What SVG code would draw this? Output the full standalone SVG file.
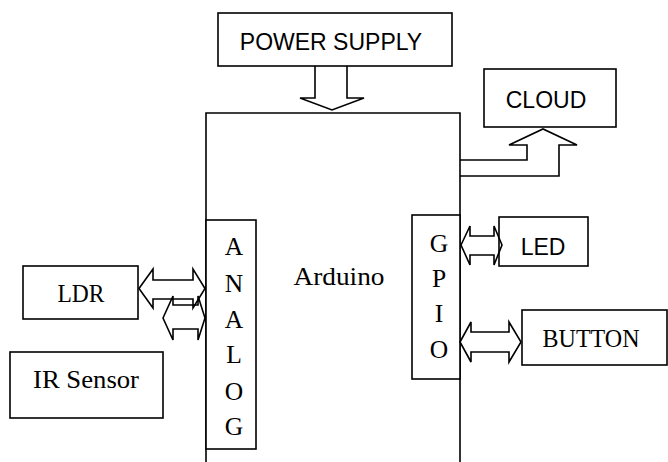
<svg xmlns="http://www.w3.org/2000/svg" width="668" height="462" viewBox="0 0 668 462">
<style>
.box{fill:#fff;stroke:#000;stroke-width:1.6}
.ln{fill:none;stroke:#000;stroke-width:1.6;stroke-linejoin:miter}
.sans{font-family:"Liberation Sans",Arial,sans-serif;font-size:23px;fill:#000;text-anchor:middle}
.serif{font-family:"Liberation Serif","Times New Roman",serif;font-size:25.5px;fill:#000;text-anchor:middle}
</style>
<rect width="668" height="462" fill="#fff"/>
<g id="arduino">
<path class="ln" d="M206,462 V113 H460 V462"/>
<text class="serif" x="339" y="285" textLength="91" lengthAdjust="spacingAndGlyphs">Arduino</text>
</g>
<g id="analog">
<rect class="box" x="206" y="220" width="50" height="229"/>
<text class="serif" x="234" y="255">A</text>
<text class="serif" x="234" y="292">N</text>
<text class="serif" x="234" y="328">A</text>
<text class="serif" x="234" y="363">L</text>
<text class="serif" x="234" y="400">O</text>
<text class="serif" x="234" y="435">G</text>
</g>
<g id="gpio">
<rect class="box" x="412" y="215" width="48" height="164"/>
<text class="serif" x="439" y="252">G</text>
<text class="serif" x="439" y="287">P</text>
<text class="serif" x="439" y="322">I</text>
<text class="serif" x="439" y="358">O</text>
</g>
<g id="power">
<rect class="box" x="218" y="13" width="234" height="53"/>
<text class="sans" x="331" y="50">POWER SUPPLY</text>
</g>
<g id="cloud">
<rect class="box" x="484" y="69" width="132" height="58"/>
<text class="sans" x="546" y="108">CLOUD</text>
</g>
<g id="ldr">
<rect class="box" x="23" y="266" width="115" height="53"/>
<text class="serif" x="81" y="302" textLength="47" lengthAdjust="spacingAndGlyphs">LDR</text>
</g>
<g id="ir">
<rect class="box" x="10" y="352" width="153" height="66"/>
<text class="serif" x="86" y="388" textLength="106" lengthAdjust="spacingAndGlyphs">IR Sensor</text>
</g>
<g id="led">
<rect class="box" x="499" y="217" width="89" height="49"/>
<text class="sans" x="543" y="255">LED</text>
</g>
<g id="button">
<rect class="box" x="522" y="310" width="145" height="55"/>
<text class="serif" x="591" y="347" textLength="97" lengthAdjust="spacingAndGlyphs">BUTTON</text>
</g>
<g id="connectors">
<path class="ln" d="M315,66 V98 H300 L332,110 L364,98 H347 V66"/>
<path class="ln" d="M460,160 H527 V145 H509 L543,129 L577,145 H559 V176 H460"/>
<path class="ln" d="M139,288.5 L153,269 V280 H193 V269 L205,288.5 L193,308 V299 H153 V308 Z"/>
<path class="ln" d="M163,318 L173,296 V305 H198 V296 L205,318 L198,340 V329 H173 V340 Z"/>
<path class="ln" d="M461,245 L470,226 V236 H494 V226 L502,245 L494,265 V255 H470 V265 Z"/>
<path class="ln" d="M460,342 L471,322 V332 H509 V322 L521,342 L509,362 V352 H471 V362 Z"/>
</g>
</svg>
